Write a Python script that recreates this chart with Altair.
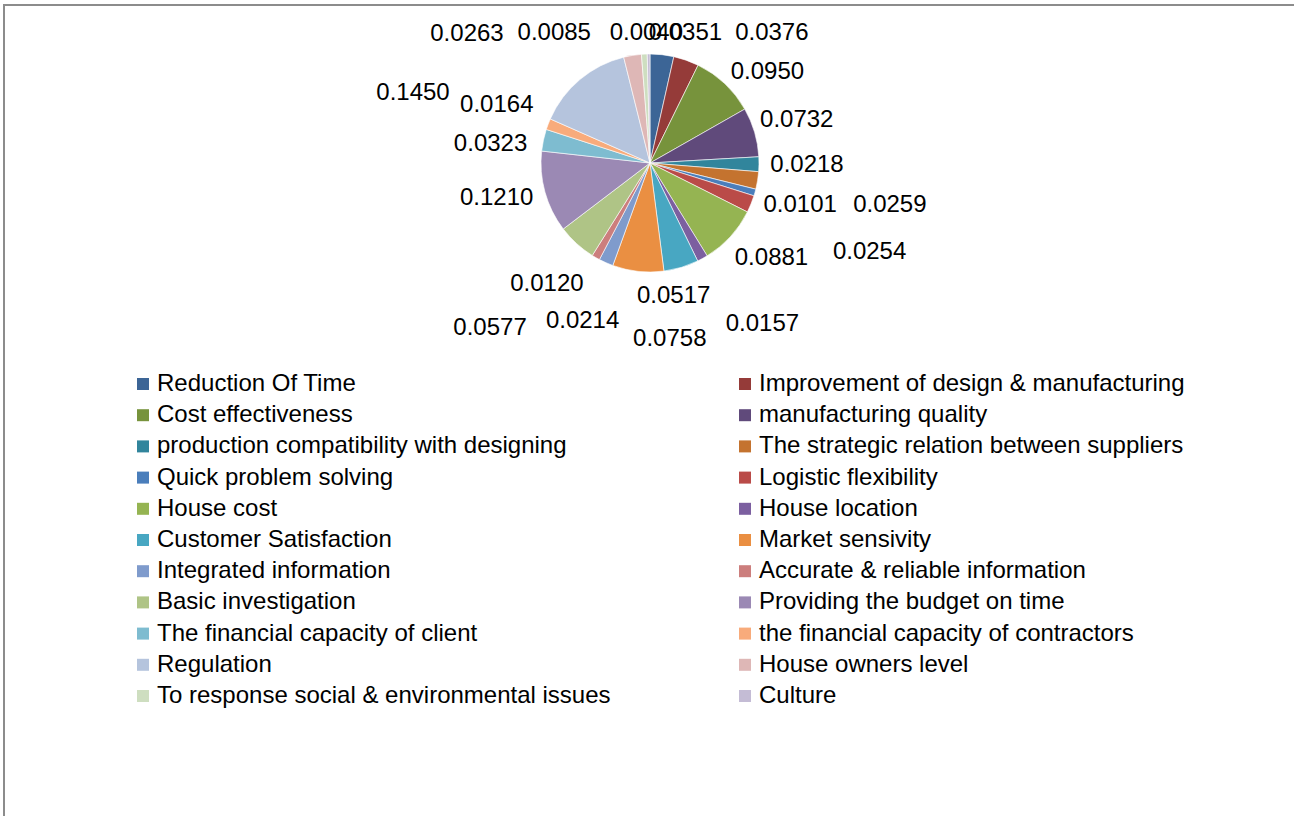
import altair as alt
import pandas as pd

# Factor weights, clockwise from 12 o'clock
categories = [
    "Reduction Of Time",
    "Improvement of design & manufacturing",
    "Cost effectiveness",
    "manufacturing quality",
    "production compatibility with designing",
    "The strategic relation between suppliers",
    "Quick problem solving",
    "Logistic flexibility",
    "House cost",
    "House location",
    "Customer Satisfaction",
    "Market sensivity",
    "Integrated information",
    "Accurate & reliable information",
    "Basic investigation",
    "Providing the budget on time",
    "The financial capacity of client",
    "the financial capacity of contractors",
    "Regulation",
    "House owners level",
    "To response social & environmental issues",
    "Culture",
]

weights = [
    0.0351, 0.0376, 0.0950, 0.0732, 0.0218, 0.0259, 0.0101, 0.0254,
    0.0881, 0.0157, 0.0517, 0.0758, 0.0214, 0.0120, 0.0577, 0.1210,
    0.0323, 0.0164, 0.1450, 0.0263, 0.0085, 0.0040,
]

colors = [
    "#3C6596", "#953B39", "#77933C", "#604A7B", "#31859C", "#C4732F",
    "#4A7EBB", "#BA4B48", "#95B452", "#7C5FA0", "#48A7C2", "#EA8F42",
    "#7F9BCC", "#CC7E7D", "#AFC486", "#9B89B4", "#7EBCD0", "#F8AB7B",
    "#B5C4DD", "#DEB7B6", "#CEDEC0", "#C4BCD5",
]

# Label placement: distance from the pie centre along each slice's mid-angle,
# plus a small nudge where labels are pushed apart to avoid collisions.
label_dist = [131, 138, 148, 153, 157, 243, 156, 237, 154, 196, 135, 175,
              172, 159, 230, 157, 160, 164, 160, 131, 130, 130]
label_dx = [21, 76, 16, 0, 0, 0, 0, 0, 8, 18, -15, 39,
            2, -24, -5, -2, -3, 0, -134, -162, -89, -2]
label_dy = [0, 0, 17, 0, 0, 3, 0, 0, -9, -11, 4, 2,
            1, -17, -5, -7, 15, 0, 52, 0, 0, 0]

FONT = "Liberation Sans"
FONT_SIZE = 24

df = pd.DataFrame({
    "idx": list(range(len(categories))),
    "category": categories,
    "weight": weights,
    "label": [f"{w:.4f}" for w in weights],
    "ldist": label_dist,
    "ldx": label_dx,
    "ldy": label_dy,
})

frame = alt.Chart(pd.DataFrame({"k": [0]})).mark_rect(
    filled=False, stroke="#8C8C8C", strokeWidth=2
).encode(
    x=alt.value(-2), x2=alt.value(1320), y=alt.value(5), y2=alt.value(840)
)

pie = alt.Chart(df).mark_arc(outerRadius=109, stroke="white", strokeWidth=0.6).encode(
    theta=alt.Theta("weight:Q", stack=True),
    order=alt.Order("idx:Q"),
    color=alt.Color(
        "category:N",
        sort=categories,
        scale=alt.Scale(domain=categories, range=colors),
        legend=alt.Legend(
            title=None,
            orient="none",
            direction="horizontal",
            legendX=125,
            legendY=372,
            columns=2,
            columnPadding=122,
            rowPadding=7.2,
            padding=0,
            symbolType="square",
            symbolSize=144,
            symbolStrokeWidth=0,
            labelFont=FONT,
            labelFontSize=FONT_SIZE,
            labelColor="#000000",
            labelLimit=0,
            labelOffset=2,
        ),
    ),
)

# Value labels sit at each slice's mid-angle (running total minus half the slice)
labels = alt.Chart(df).transform_window(
    cum="sum(weight)", sort=[alt.SortField("idx", order="ascending")]
).transform_calculate(
    mid="datum.cum - datum.weight / 2"
).mark_text(
    font=FONT,
    fontSize=FONT_SIZE,
    color="#000000",
    align="center",
    baseline="middle",
    dx=alt.ExprRef(expr="datum.ldx"),
    dy=alt.ExprRef(expr="datum.ldy"),
).encode(
    theta=alt.Theta("mid:Q", stack=None, scale=alt.Scale(domain=[0, 1])),
    radius=alt.Radius("ldist:Q", scale=None),
    text="label:N",
)

chart = alt.layer(frame, pie, labels).resolve_scale(
    theta="independent"
).properties(
    width=1288,
    height=326,
    padding={"left": 6, "top": 0, "right": 0, "bottom": 490},
    autosize=alt.AutoSizeParams(type="none"),
    background="white",
).configure_view(stroke=None)

chart.save("out.html", embed_options={"renderer": "svg", "actions": False})
